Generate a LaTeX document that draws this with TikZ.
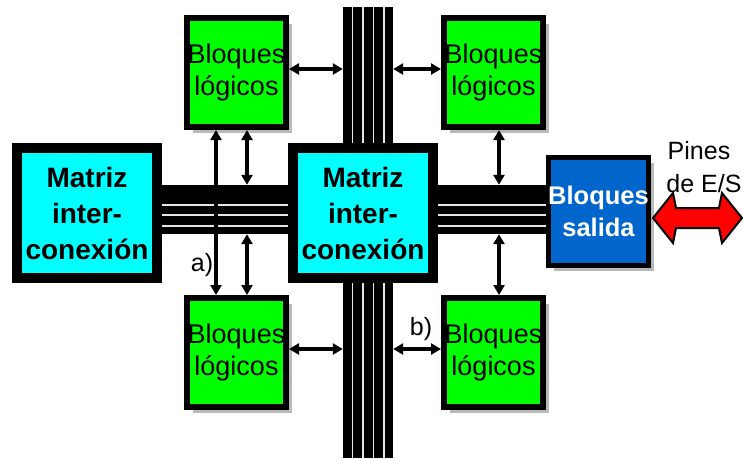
\documentclass[tikz,border=0pt]{standalone}
\usepackage{fontspec}
\setmainfont{Liberation Sans}
\usetikzlibrary{arrows.meta,shadows,calc}
\definecolor{cyanC}{HTML}{00FFFF}
\definecolor{greenC}{HTML}{00FF00}
\definecolor{blueC}{HTML}{0066CC}
\definecolor{redC}{HTML}{FF0000}
\definecolor{busline}{HTML}{E6E6E6}
\begin{document}
\begin{tikzpicture}[x=1pt,y=-1pt,
  matriz/.style={draw=black, line width=10pt, fill=cyanC, minimum width=140pt, minimum height=130pt, inner sep=0pt, align=center, font=\fontsize{28}{36}\selectfont\bfseries},
  logic/.style={draw=black, line width=6pt, fill=greenC, minimum width=99pt, minimum height=109pt, inner sep=0pt, align=center, font=\fontsize{27}{32}\selectfont,
    drop shadow={shadow xshift=6pt, shadow yshift=-6pt, fill=gray!55, opacity=1}},
  outblk/.style={draw=black, line width=5pt, fill=blueC, text=white, minimum width=98pt, minimum height=108pt, inner sep=0pt, align=center, font=\fontsize{25.5}{32}\selectfont\bfseries,
    drop shadow={shadow xshift=5.5pt, shadow yshift=-5.5pt, fill=gray!55, opacity=1}},
  bus/.style={fill=black, draw=none, inner sep=0pt},
  wline/.style={draw=busline, line width=1.6pt},
  biarrow/.style={draw=black, line width=3.2pt, {Triangle[width=11pt,length=10pt]}-{Triangle[width=11pt,length=10pt]}},
  lbl/.style={inner sep=0pt, align=center, font=\fontsize{25}{33}\selectfont}
]
\useasboundingbox (0,0) rectangle (743,458);

% buses
\node[bus, minimum width=50pt, minimum height=136pt] (vT) at (368,75) {};
\node[bus, minimum width=50pt, minimum height=176pt] (vB) at (368,370) {};
\node[bus, minimum width=127pt, minimum height=49pt] (hL) at (224.5,209.5) {};
\node[bus, minimum width=111pt, minimum height=49pt] (hR) at (492.5,209.5) {};
\foreach \xx in {352.5,363,373.5,384}{
  \coordinate (tx) at (\xx,0);
  \draw[wline] (vT.north -| tx) -- (vT.south -| tx);
  \draw[wline] (vB.north -| tx) -- (vB.south -| tx);
}
\foreach \yy in {205,215,226}{
  \coordinate (ty) at (0,\yy);
  \draw[wline] (hL.west |- ty) -- (hL.east |- ty);
  \draw[wline] (hR.west |- ty) -- (hR.east |- ty);
}

% boxes
\node[matriz] (mL) at (87,213) {Matriz\\inter-\\conexión};
\node[matriz] (mC) at (363,213) {Matriz\\inter-\\conexión};
\node[logic] (TL) at (236.5,72.5) {Bloques\\lógicos};
\node[logic] (TR) at (493.5,72.5) {Bloques\\lógicos};
\node[logic] (BL) at (236.5,352.5) {Bloques\\lógicos};
\node[logic] (BR) at (493.5,352.5) {Bloques\\lógicos};
\node[outblk] (out) at (598.5,211.5) {Bloques\\salida};

% reference coordinates
\coordinate (xa) at (216,0);
\coordinate (xb) at (247,0);
\coordinate (xc) at (499,0);
\coordinate (ya) at (0,69);
\coordinate (yb) at (0,349);

% arrows
\draw[biarrow] (TL.south -| xa) -- (BL.north -| xa);
\draw[biarrow] (TL.south -| xb) -- (hL.north -| xb);
\draw[biarrow] (hL.south -| xb) -- (BL.north -| xb);
\draw[biarrow] (TR.south -| xc) -- (hR.north -| xc);
\draw[biarrow] (hR.south -| xc) -- (BR.north -| xc);
\draw[biarrow] (TL.east |- ya) -- (vT.west |- ya);
\draw[biarrow] (vT.east |- ya) -- (TR.west |- ya);
\draw[biarrow] (BL.east |- yb) -- (vB.west |- yb);
\draw[biarrow] (vB.east |- yb) -- (BR.west |- yb);

% labels
\node[lbl] (la) at (202,265) {a)};
\node[lbl] (lb) at (421,329) {b)};
\node[lbl, anchor=base] (pines) at (699,159) {Pines};
\node[lbl, anchor=base] (des) at (704,192) {de E/S};

% red I/O double arrow
\draw[fill=redC, draw=black, line width=2pt, line join=miter]
  (653,218) -- (673,193) -- (676,208) -- (719,208) -- (722,193) -- (742,218)
  -- (722,243) -- (719,228) -- (676,228) -- (673,243) -- cycle;
\end{tikzpicture}
\end{document}
